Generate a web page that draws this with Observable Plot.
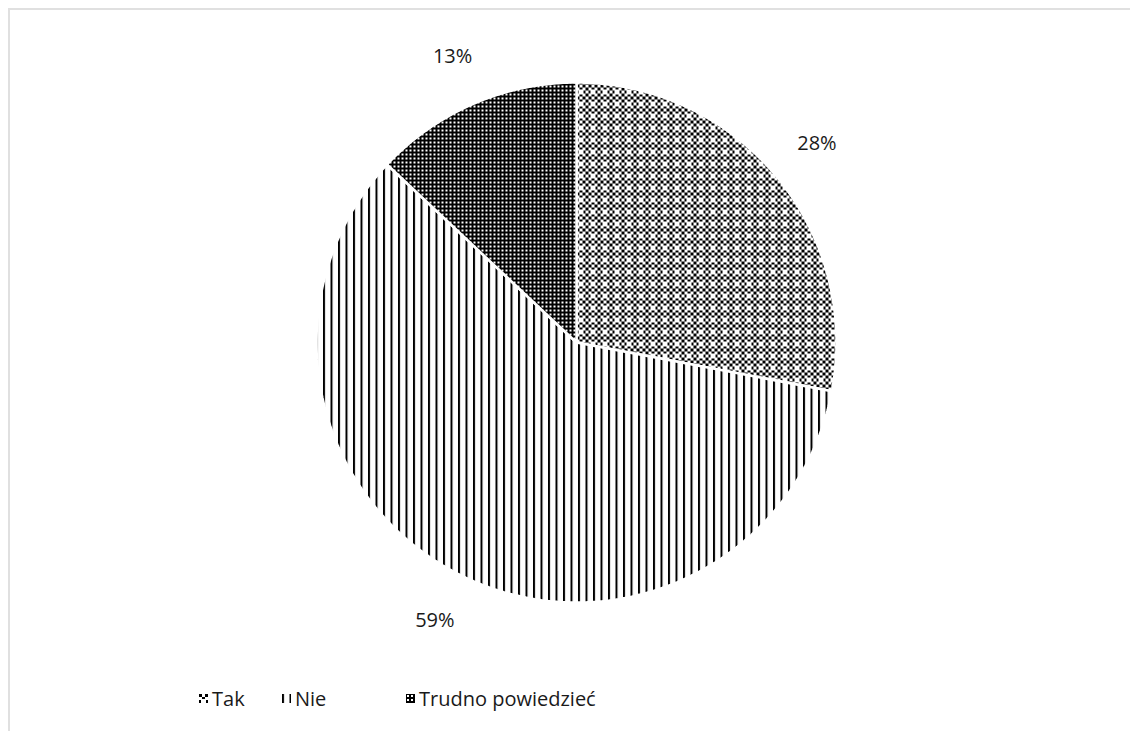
<!DOCTYPE html>
<html><head><meta charset="utf-8">
<script src="https://cdn.jsdelivr.net/npm/d3@7"></script>
<script src="https://cdn.jsdelivr.net/npm/@observablehq/plot@0.6"></script>
<style>
html,body{margin:0;padding:0;background:#fff}
body{width:1130px;height:731px;overflow:hidden;position:relative;font-family:"Open Sans",sans-serif;color:#1a1a1a}
#frame{position:absolute;left:8px;top:8px;width:1300px;height:900px;border:2px solid #e0e0e0;box-sizing:border-box}
#chart{position:absolute;left:0;top:0}
#legend{position:absolute;top:683px;left:0;width:1130px;height:30px;font-size:20px}
.item{position:absolute;top:0;display:flex;align-items:center;white-space:nowrap;height:30px}
.item svg{margin-right:4px}
</style></head>
<body>
<div id="frame"></div>
<div id="chart"></div>
<div id="legend"></div>
<script>
const categories = ["Tak", "Nie", "Trudno powiedzieć"];
const values = [28, 59, 13];
const labels = ["28%", "59%", "13%"];
const patternIds = ["pat-tak", "pat-nie", "pat-trudno"];

const total = d3.sum(values);
let acc = 0;
const slices = categories.map((c, i) => {
  const a0 = acc / total * 2 * Math.PI;
  acc += values[i];
  const a1 = acc / total * 2 * Math.PI;
  return {cat: c, i, a0, a1, mid: (a0 + a1) / 2};
});
function slicePoints(s) {
  const pts = [{x: 0, y: 0}];
  const n = Math.max(8, Math.ceil((s.a1 - s.a0) / (Math.PI / 360)));
  for (let k = 0; k <= n; k++) {
    const a = s.a0 + (s.a1 - s.a0) * k / n;
    pts.push({x: Math.sin(a), y: Math.cos(a)});
  }
  pts.push({x: 0, y: 0});
  return pts;
}
const labelData = slices.map(s => ({x: 1.2 * Math.sin(s.mid), y: 1.2 * Math.cos(s.mid), text: labels[s.i]}));

const W = 1130, H = 690, R = 260, CX = 576, CY = 342;
const svg = Plot.plot({
  width: W, height: H,
  marginLeft: CX - R, marginRight: W - CX - R,
  marginTop: CY - R, marginBottom: H - CY - R,
  x: {domain: [-1, 1], axis: null},
  y: {domain: [-1, 1], axis: null},
  style: {background: "transparent", fontFamily: "Open Sans, sans-serif"},
  marks: [
    ...slices.map(s => Plot.line(slicePoints(s), {x: "x", y: "y", fill: `url(#${patternIds[s.i]})`, stroke: "white", strokeWidth: 2.5, strokeLinejoin: "miter"})),
    Plot.text(labelData, {x: "x", y: "y", text: "text", fontSize: 20, fill: "#1a1a1a"})
  ]
});

// patterns
const defs = d3.select(svg).insert("defs", ":first-child");
// Tak: checkerboard with small white crosses
const p1 = defs.append("pattern").attr("id", "pat-tak").attr("patternUnits", "userSpaceOnUse").attr("width", 12).attr("height", 12);
p1.append("rect").attr("width", 12).attr("height", 12).attr("fill", "white");
for (let r = 0; r < 4; r++) for (let c = 0; c < 4; c++) if ((r + c) % 2 === 0) p1.append("rect").attr("x", c * 3).attr("y", r * 3).attr("width", 3).attr("height", 3).attr("fill", "black");
// plus around white cell (c=1,r=2): partially whiten neighbours
p1.append("rect").attr("x", 2).attr("y", 6).attr("width", 5).attr("height", 3).attr("fill", "white");
p1.append("rect").attr("x", 3).attr("y", 5).attr("width", 3).attr("height", 5).attr("fill", "white");
// Nie: vertical stripes
const p2 = defs.append("pattern").attr("id", "pat-nie").attr("patternUnits", "userSpaceOnUse").attr("width", 7.5).attr("height", 8);
p2.append("rect").attr("width", 7.5).attr("height", 8).attr("fill", "white");
p2.append("rect").attr("x", 0).attr("width", 2).attr("height", 8).attr("fill", "black");
// Trudno: black with white dots
const p3 = defs.append("pattern").attr("id", "pat-trudno").attr("patternUnits", "userSpaceOnUse").attr("width", 4).attr("height", 4);
p3.append("rect").attr("width", 4).attr("height", 4).attr("fill", "black");
p3.append("rect").attr("x", 1).attr("y", 1).attr("width", 2).attr("height", 2).attr("fill", "white");

document.getElementById("chart").appendChild(svg);

// legend
const legend = d3.select("#legend");
const lx = [199, 282, 406];
categories.forEach((c, i) => {
  const it = legend.append("div").attr("class", "item").style("left", lx[i] + "px");
  const s = it.append("svg").attr("width", 9).attr("height", 9);
  s.append("rect").attr("width", 9).attr("height", 9).attr("fill", `url(#${patternIds[i]})`);
  it.append("span").text(c);
});
</script>
</body></html>
